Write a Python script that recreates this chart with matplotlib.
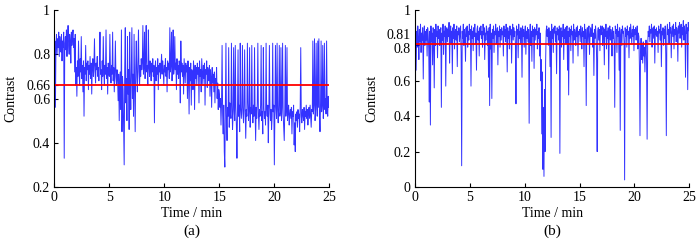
import matplotlib
matplotlib.use('Agg')
import matplotlib.pyplot as plt
import matplotlib.transforms as mtransforms
import numpy as np

plt.rcParams['font.family'] = ['Liberation Serif', 'DejaVu Serif']

# contrast samples every 0.05 min, one row per minute
contrast_a = [
    0.78, 0.86, 0.56, 0.84, 0.89, 0.80, 0.87, 0.83, 0.90, 0.79, 0.88, 0.84, 0.81, 0.89, 0.77, 0.86, 0.83, 0.90, 0.33, 0.85,
    0.88, 0.82, 0.91, 0.79, 0.87, 0.93, 0.84, 0.80, 0.89, 0.86, 0.76, 0.90, 0.84, 0.88, 0.91, 0.83, 0.87, 0.72, 0.89, 0.66,
    0.74, 0.61, 0.77, 0.70, 0.86, 0.73, 0.66, 0.78, 0.72, 0.88, 0.69, 0.75, 0.63, 0.77, 0.52, 0.74, 0.71, 0.84, 0.68, 0.76,
    0.73, 0.77, 0.64, 0.75, 0.71, 0.79, 0.69, 0.76, 0.62, 0.74, 0.78, 0.70, 0.75, 0.87, 0.72, 0.67, 0.76, 0.73, 0.79, 0.70,
    0.74, 0.68, 0.76, 0.90, 0.71, 0.73, 0.64, 0.77, 0.70, 0.88, 0.72, 0.66, 0.75, 0.71, 0.91, 0.69, 0.74, 0.62, 0.76, 0.72,
    0.70, 0.89, 0.73, 0.67, 0.75, 0.71, 0.90, 0.68, 0.74, 0.63, 0.72, 0.86, 0.70, 0.66, 0.73, 0.69, 0.59, 0.71, 0.50, 0.68,
    0.72, 0.55, 0.91, 0.45, 0.70, 0.64, 0.48, 0.30, 0.74, 0.92, 0.58, 0.69, 0.50, 0.88, 0.62, 0.73, 0.46, 0.90, 0.66, 0.55,
    0.75, 0.92, 0.60, 0.71, 0.52, 0.89, 0.68, 0.45, 0.74, 0.86, 0.70, 0.63, 0.76, 0.91, 0.72, 0.66, 0.75, 0.70, 0.78, 0.73,
    0.76, 0.93, 0.71, 0.74, 0.90, 0.69, 0.77, 0.93, 0.72, 0.75, 0.66, 0.91, 0.74, 0.70, 0.77, 0.73, 0.68, 0.76, 0.72, 0.78,
    0.70, 0.75, 0.49, 0.73, 0.77, 0.68, 0.74, 0.71, 0.78, 0.64, 0.75, 0.72, 0.76, 0.69, 0.74, 0.80, 0.71, 0.77, 0.73, 0.66,
    0.75, 0.72, 0.78, 0.70, 0.74, 0.63, 0.77, 0.73, 0.76, 0.69, 0.92, 0.72, 0.75, 0.90, 0.68, 0.77, 0.91, 0.71, 0.74, 0.88,
    0.73, 0.76, 0.64, 0.78, 0.71, 0.75, 0.69, 0.77, 0.74, 0.58, 0.86, 0.72, 0.76, 0.70, 0.75, 0.62, 0.78, 0.73, 0.67, 0.76,
    0.72, 0.75, 0.60, 0.77, 0.70, 0.53, 0.74, 0.68, 0.76, 0.57, 0.73, 0.71, 0.64, 0.77, 0.72, 0.55, 0.75, 0.69, 0.74, 0.66,
    0.76, 0.71, 0.74, 0.58, 0.77, 0.70, 0.73, 0.63, 0.78, 0.72, 0.66, 0.75, 0.69, 0.76, 0.57, 0.73, 0.71, 0.77, 0.65, 0.74,
    0.72, 0.68, 0.75, 0.61, 0.73, 0.70, 0.56, 0.74, 0.67, 0.71, 0.63, 0.72, 0.58, 0.69, 0.66, 0.74, 0.60, 0.67, 0.55, 0.64,
    0.62, 0.56, 0.60, 0.48, 0.58, 0.84, 0.53, 0.44, 0.57, 0.36, 0.29, 0.55, 0.85, 0.50, 0.41, 0.56, 0.52, 0.83, 0.47, 0.58,
    0.54, 0.51, 0.85, 0.57, 0.46, 0.53, 0.83, 0.55, 0.50, 0.84, 0.56, 0.48, 0.33, 0.54, 0.82, 0.52, 0.57, 0.45, 0.85, 0.55,
    0.51, 0.56, 0.84, 0.53, 0.49, 0.57, 0.82, 0.54, 0.42, 0.55, 0.52, 0.85, 0.58, 0.50, 0.54, 0.83, 0.47, 0.56, 0.53, 0.84,
    0.55, 0.49, 0.57, 0.52, 0.83, 0.54, 0.41, 0.56, 0.51, 0.58, 0.85, 0.53, 0.46, 0.55, 0.52, 0.57, 0.84, 0.50, 0.54, 0.44,
    0.83, 0.56, 0.51, 0.54, 0.48, 0.85, 0.55, 0.52, 0.57, 0.40, 0.53, 0.84, 0.56, 0.50, 0.55, 0.46, 0.52, 0.85, 0.54, 0.57,
    0.30, 0.53, 0.84, 0.56, 0.51, 0.85, 0.55, 0.49, 0.57, 0.84, 0.52, 0.54, 0.83, 0.50, 0.56, 0.85, 0.53, 0.47, 0.41, 0.55,
    0.84, 0.52, 0.56, 0.83, 0.50, 0.54, 0.57, 0.48, 0.53, 0.55, 0.51, 0.56, 0.44, 0.54, 0.52, 0.57, 0.39, 0.49, 0.36, 0.53,
    0.50, 0.54, 0.47, 0.55, 0.51, 0.53, 0.45, 0.56, 0.83, 0.52, 0.49, 0.55, 0.53, 0.50, 0.56, 0.46, 0.54, 0.52, 0.57, 0.51,
    0.55, 0.48, 0.53, 0.56, 0.51, 0.57, 0.52, 0.47, 0.55, 0.54, 0.86, 0.53, 0.57, 0.87, 0.50, 0.55, 0.85, 0.58, 0.52, 0.86,
    0.56, 0.87, 0.53, 0.45, 0.58, 0.86, 0.54, 0.57, 0.84, 0.51, 0.59, 0.85, 0.55, 0.60, 0.53, 0.86, 0.57, 0.52, 0.61, 0.56,
    0.58,
]

contrast_b = [
    0.84, 0.90, 0.66, 0.88, 0.79, 0.91, 0.85, 0.72, 0.89, 0.82, 0.92, 0.76, 0.87, 0.83, 0.90, 0.61, 0.86, 0.91, 0.80, 0.88,
    0.83, 0.89, 0.74, 0.90, 0.86, 0.78, 0.48, 0.88, 0.35, 0.91, 0.82, 0.87, 0.69, 0.90, 0.84, 0.56, 0.89, 0.80, 0.92, 0.85,
    0.88, 0.73, 0.91, 0.84, 0.89, 0.80, 0.86, 0.90, 0.45, 0.87, 0.83, 0.92, 0.75, 0.88, 0.85, 0.91, 0.57, 0.86, 0.90, 0.82,
    0.89, 0.85, 0.93, 0.70, 0.87, 0.91, 0.81, 0.88, 0.64, 0.90, 0.84, 0.92, 0.78, 0.87, 0.89, 0.83, 0.91, 0.68, 0.88, 0.86,
    0.90, 0.82, 0.87, 0.91, 0.76, 0.12, 0.88, 0.84, 0.92, 0.80, 0.89, 0.86, 0.71, 0.90, 0.85, 0.91, 0.79, 0.88, 0.83, 0.92,
    0.86, 0.89, 0.57, 0.91, 0.84, 0.88, 0.77, 0.90, 0.85, 0.92, 0.81, 0.87, 0.66, 0.89, 0.91, 0.83, 0.88, 0.74, 0.90, 0.86,
    0.91, 0.84, 0.88, 0.79, 0.92, 0.86, 0.90, 0.72, 0.87, 0.83, 0.91, 0.89, 0.80, 0.88, 0.62, 0.90, 0.46, 0.92, 0.78, 0.87,
    0.50, 0.89, 0.84, 0.91, 0.76, 0.88, 0.86, 0.92, 0.81, 0.87, 0.90, 0.69, 0.88, 0.85, 0.91, 0.79, 0.89, 0.83, 0.90, 0.86,
    0.88, 0.74, 0.91, 0.85, 0.89, 0.82, 0.92, 0.87, 0.65, 0.90, 0.84, 0.88, 0.78, 0.91, 0.86, 0.89, 0.70, 0.87, 0.92, 0.83,
    0.90, 0.85, 0.88, 0.80, 0.47, 0.91, 0.86, 0.89, 0.73, 0.92, 0.84, 0.88, 0.81, 0.90, 0.87, 0.62, 0.91, 0.85, 0.89, 0.79,
    0.87, 0.91, 0.75, 0.88, 0.84, 0.90, 0.82, 0.89, 0.36, 0.86, 0.92, 0.80, 0.88, 0.71, 0.91, 0.85, 0.89, 0.67, 0.90, 0.83,
    0.89, 0.86, 0.92, 0.78, 0.88, 0.84, 0.90, 0.74, 0.87, 0.60, 0.72, 0.30, 0.65, 0.10, 0.45, 0.06, 0.55, 0.20, 0.70, 0.88,
    0.91, 0.85, 0.89, 0.80, 0.90, 0.86, 0.68, 0.88, 0.28, 0.92, 0.84, 0.89, 0.76, 0.90, 0.87, 0.91, 0.82, 0.88, 0.64, 0.90,
    0.86, 0.89, 0.83, 0.91, 0.19, 0.87, 0.90, 0.79, 0.88, 0.85, 0.92, 0.72, 0.89, 0.84, 0.90, 0.81, 0.87, 0.91, 0.66, 0.88,
    0.52, 0.90, 0.85, 0.89, 0.77, 0.91, 0.86, 0.88, 0.70, 0.92, 0.83, 0.89, 0.87, 0.80, 0.90, 0.85, 0.91, 0.74, 0.88, 0.86,
    0.89, 0.82, 0.91, 0.87, 0.78, 0.90, 0.85, 0.88, 0.68, 0.92, 0.84, 0.89, 0.46, 0.87, 0.90, 0.81, 0.88, 0.91, 0.75, 0.86,
    0.90, 0.85, 0.88, 0.92, 0.79, 0.87, 0.63, 0.89, 0.84, 0.91, 0.86, 0.72, 0.20, 0.88, 0.90, 0.83, 0.89, 0.77, 0.91, 0.86,
    0.88, 0.91, 0.80, 0.87, 0.90, 0.69, 0.89, 0.85, 0.92, 0.78, 0.88, 0.84, 0.90, 0.61, 0.87, 0.91, 0.83, 0.89, 0.86, 0.74,
    0.90, 0.84, 0.88, 0.81, 0.45, 0.91, 0.87, 0.89, 0.76, 0.92, 0.85, 0.88, 0.66, 0.90, 0.32, 0.86, 0.89, 0.80, 0.91, 0.87,
    0.88, 0.82, 0.04, 0.90, 0.85, 0.89, 0.79, 0.91, 0.86, 0.88, 0.73, 0.90, 0.84, 0.92, 0.87, 0.81, 0.89, 0.85, 0.91, 0.77,
    0.89, 0.86, 0.90, 0.83, 0.88, 0.91, 0.78, 0.87, 0.85, 0.68, 0.29, 0.76, 0.84, 0.72, 0.80, 0.70, 0.82, 0.74, 0.79, 0.65,
    0.77, 0.83, 0.71, 0.27, 0.80, 0.88, 0.85, 0.91, 0.82, 0.89, 0.87, 0.92, 0.79, 0.88, 0.90, 0.84, 0.91, 0.70, 0.89, 0.86,
    0.90, 0.85, 0.88, 0.76, 0.91, 0.87, 0.89, 0.83, 0.92, 0.68, 0.88, 0.86, 0.90, 0.80, 0.89, 0.84, 0.91, 0.75, 0.29, 0.87,
    0.92, 0.86, 0.89, 0.81, 0.93, 0.87, 0.90, 0.73, 0.88, 0.91, 0.85, 0.92, 0.78, 0.89, 0.86, 0.93, 0.82, 0.90, 0.88, 0.71,
    0.91, 0.87, 0.93, 0.84, 0.89, 0.92, 0.79, 0.90, 0.86, 0.94, 0.83, 0.91, 0.88, 0.62, 0.92, 0.87, 0.90, 0.55, 0.93, 0.89,
    0.88,
]

mean_a = 0.66
mean_b = 0.81

ticks_a = [0.2, 0.4, 0.6, 0.66, 0.8, 1.0]
ticklabels_a = ['0.2', '0.4', '0.6', '0.66', '0.8', '1']
ticks_b = [0.0, 0.2, 0.4, 0.6, 0.8, 0.81, 1.0]
ticklabels_b = ['0', '0.2', '0.4', '0.6', '0.8', '0.81', '1']

time_a = np.linspace(0, 25, len(contrast_a))
time_b = np.linspace(0, 25, len(contrast_b))

fig = plt.figure(figsize=(7, 2.4), dpi=100)
ax1 = fig.add_axes([0.0776, 0.2208, 0.3929, 0.7375])
ax2 = fig.add_axes([0.5929, 0.2208, 0.3919, 0.7375])

panels = [
    (ax1, time_a, contrast_a, mean_a, (0.2, 1.0), ticks_a, ticklabels_a, '(a)'),
    (ax2, time_b, contrast_b, mean_b, (0.0, 1.0), ticks_b, ticklabels_b, '(b)'),
]

for ax, t, c, m, ylim, yt, ytl, tag in panels:
    ax.plot(t, c, color='blue', lw=0.7, alpha=0.8)
    ax.axhline(m, color='red', lw=1.3)
    ax.set_xlim(0, 25)
    ax.set_ylim(*ylim)
    ax.set_xticks([0, 5, 10, 15, 20, 25])
    ax.set_yticks(yt)
    ax.set_yticklabels(ytl)
    ax.spines['top'].set_visible(False)
    ax.spines['right'].set_visible(False)
    ax.tick_params(direction='in', length=3, width=0.8, labelsize=10, pad=3)
    ax.set_xlabel('Time / min', fontsize=10, labelpad=2)
    ax.set_ylabel('Contrast', fontsize=10, labelpad=6)
    pos = ax.get_position()
    fig.text(pos.x0 + pos.width / 2, 0.035, tag, ha='center', va='center', fontsize=11)

# nudge the crowded labels on panel (b) apart, as in the original
for lab in ax2.get_yticklabels():
    if lab.get_text() == '0.81':
        lab.set_transform(lab.get_transform() + mtransforms.ScaledTranslation(0, 0.095, fig.dpi_scale_trans))
    elif lab.get_text() == '0.8':
        lab.set_transform(lab.get_transform() + mtransforms.ScaledTranslation(0, -0.025, fig.dpi_scale_trans))

plt.savefig('out.png', dpi=100)
